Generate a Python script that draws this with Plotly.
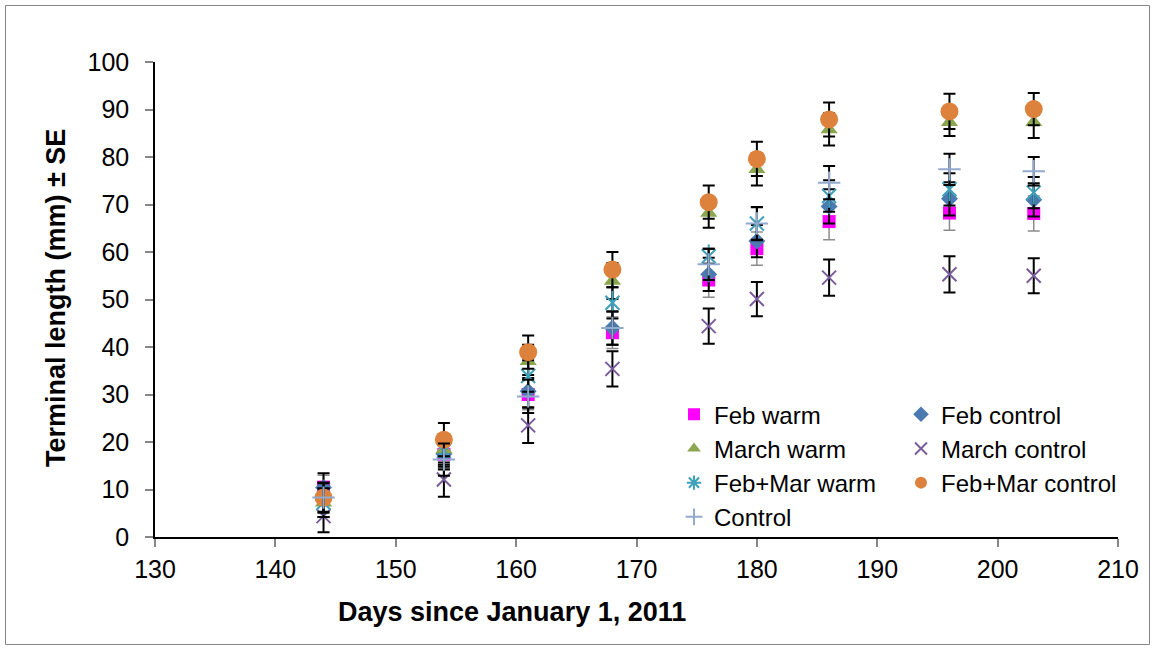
import plotly.graph_objects as go

# Days since January 1, 2011
days = [144, 154, 161, 168, 176, 180, 186, 196, 203]

# Mean terminal length (mm) and standard error per treatment
feb_warm = [10.5, 17.4, 30.0, 43.0, 54.1, 60.7, 66.4, 68.2, 68.1]
feb_warm_se = [2.5, 3.0, 3.2, 3.3, 3.6, 3.5, 3.8, 3.6, 3.7]

feb_control = [10.4, 17.5, 30.7, 44.0, 55.3, 62.3, 69.6, 71.2, 71.0]
feb_control_se = [3.0, 3.3, 3.4, 3.5, 3.5, 3.4, 3.6, 3.5, 3.5]

march_warm = [7.2, 18.4, 37.0, 53.9, 68.2, 77.4, 85.8, 87.3, 87.3]
march_warm_se = [3.0, 3.2, 3.5, 3.8, 3.1, 3.4, 3.4, 2.9, 3.3]

march_control = [4.4, 12.1, 23.5, 35.4, 44.4, 50.1, 54.6, 55.3, 55.0]
march_control_se = [3.4, 3.6, 3.7, 3.7, 3.7, 3.6, 3.8, 3.8, 3.7]

febmar_warm = [7.2, 18.1, 33.9, 49.3, 59.1, 66.0, 71.8, 73.2, 72.5]
febmar_warm_se = [3.0, 3.3, 3.3, 3.3, 1.6, 3.4, 3.3, 3.4, 3.3]

febmar_control = [8.3, 20.5, 38.9, 56.3, 70.5, 79.6, 87.9, 89.6, 90.1]
febmar_control_se = [3.0, 3.5, 3.5, 3.7, 3.5, 3.6, 3.6, 3.7, 3.4]

control = [8.3, 16.3, 29.6, 44.0, 57.4, 66.0, 74.6, 77.4, 77.0]
control_se = [3.2, 3.4, 3.5, 3.5, 3.3, 3.5, 3.5, 3.3, 3.0]

x_ticks = [130, 140, 150, 160, 170, 180, 190, 200, 210]
y_ticks = [0, 10, 20, 30, 40, 50, 60, 70, 80, 90, 100]

FONT = "Liberation Sans, Arial, sans-serif"

# plot-area geometry in pixels (used to place titles, legend and frame)
L, R, T, B = 155, 1118, 62, 537
PW, PH = R - L, B - T


def px_x(p):
    return (p - L) / PW


def px_y(p):
    return (B - p) / PH


def err(se, color="black", thickness=2):
    return dict(type="data", array=se, visible=True, color=color,
                thickness=thickness, width=6)


fig = go.Figure()

fig.add_trace(go.Scatter(
    x=days, y=feb_warm, mode="markers", name="Feb warm", legend="legend",
    marker=dict(symbol="square", size=13, color="#FF00FF"),
    error_y=err(feb_warm_se, "#8C8C8C", 1.5)))

fig.add_trace(go.Scatter(
    x=days, y=feb_control, mode="markers", name="Feb control", legend="legend2",
    marker=dict(symbol="diamond", size=13, color="#4A7AB0"),
    error_y=err(feb_control_se)))

fig.add_trace(go.Scatter(
    x=days, y=march_warm, mode="markers", name="March warm", legend="legend",
    marker=dict(symbol="triangle-up", size=15, color="#8AA64E"),
    error_y=err(march_warm_se)))

fig.add_trace(go.Scatter(
    x=days, y=march_control, mode="markers", name="March control", legend="legend2",
    marker=dict(symbol="x-thin", size=14, color="rgba(0,0,0,0)",
                line=dict(color="#7A5C9C", width=2)),
    error_y=err(march_control_se)))

# Feb+Mar warm: six-armed star built from an x and a vertical bar
fig.add_trace(go.Scatter(
    x=days, y=febmar_warm, mode="markers", name="Feb+Mar warm",
    showlegend=False, legendgroup="fmw", legend="legend",
    marker=dict(symbol="x-thin", size=14, color="rgba(0,0,0,0)",
                line=dict(color="#3FA0BA", width=2)),
    error_y=err(febmar_warm_se)))
fig.add_trace(go.Scatter(
    x=days, y=febmar_warm, mode="markers", name="Feb+Mar warm",
    legendgroup="fmw", showlegend=False, hoverinfo="skip", legend="legend",
    marker=dict(symbol="line-ns", size=17, color="rgba(0,0,0,0)",
                line=dict(color="#3FA0BA", width=2))))
fig.add_trace(go.Scatter(
    x=[None], y=[None], mode="markers", name="Feb+Mar warm",
    legendgroup="fmw", legend="legend",
    marker=dict(symbol="asterisk", size=12, color="rgba(0,0,0,0)",
                line=dict(color="#3FA0BA", width=1.5))))

fig.add_trace(go.Scatter(
    x=days, y=febmar_control, mode="markers", name="Feb+Mar control",
    legend="legend2",
    marker=dict(symbol="circle", size=18, color="#DD823D"),
    error_y=err(febmar_control_se)))

fig.add_trace(go.Scatter(
    x=days, y=control, mode="markers", name="Control", legend="legend",
    marker=dict(symbol="cross-thin", size=16, color="rgba(0,0,0,0)",
                line=dict(color="#93AACF", width=2)),
    error_y=err(control_se)))

axis_common = dict(
    showgrid=False, zeroline=False, showline=True, linecolor="black",
    linewidth=1.5, ticks="outside", ticklen=8, tickcolor="#868686",
    tickwidth=1.5, tickfont=dict(family=FONT, size=25, color="black"),
)

fig.update_xaxes(range=[130, 210], tickvals=x_ticks, ticklabelstandoff=1,
                 **axis_common)
fig.update_yaxes(range=[0, 100], tickvals=y_ticks, ticklabelstandoff=11,
                 **axis_common)

legend_common = dict(
    orientation="v", yanchor="top", xanchor="left", y=0.305,
    font=dict(family=FONT, size=24, color="black"),
    bgcolor="rgba(0,0,0,0)", tracegroupgap=0, itemwidth=30,
    itemsizing="constant", traceorder="normal",
)

fig.update_layout(
    width=1155, height=649,
    margin=dict(l=L, r=1155 - R, t=T, b=649 - B),
    paper_bgcolor="white", plot_bgcolor="white",
    font=dict(family=FONT, color="black"),
    showlegend=True,
    legend=dict(x=px_x(674), **legend_common),
    legend2=dict(x=px_x(901), **legend_common),
    annotations=[
        dict(text="<b>Days since January 1, 2011</b>", xref="paper", yref="paper",
             x=px_x(512), y=px_y(612), xanchor="center",
             yanchor="middle", showarrow=False,
             font=dict(family=FONT, size=27, color="black")),
        dict(text="<b>Terminal length (mm) ± SE</b>", xref="paper", yref="paper",
             x=px_x(56), y=px_y(298), xanchor="center", yanchor="middle",
             textangle=-90, showarrow=False,
             font=dict(family=FONT, size=27, color="black")),
    ],
    shapes=[
        dict(type="rect", xref="paper", yref="paper",
             x0=px_x(5.5), x1=px_x(1149.5),
             y0=px_y(644.5), y1=px_y(5.5),
             line=dict(color="#868686", width=1)),
    ],
)

fig.write_html("out.html")
